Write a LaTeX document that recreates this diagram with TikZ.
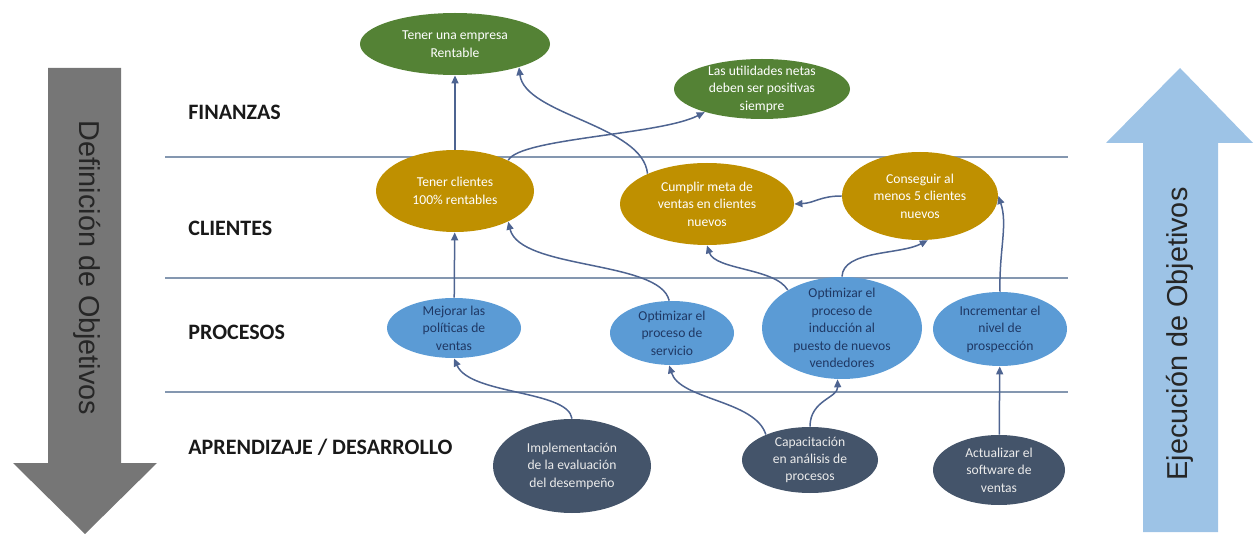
\documentclass[tikz,border=0pt]{standalone}
\usepackage{fontspec}
\setmainfont{Carlito}
\newfontfamily\arialf{Liberation Sans}
\usetikzlibrary{shapes.geometric,arrows.meta}
\definecolor{cgreen}{HTML}{548235}
\definecolor{cgold}{HTML}{BF9000}
\definecolor{cblue}{HTML}{5B9BD5}
\definecolor{cdark}{HTML}{44546A}
\definecolor{cnavy}{HTML}{1F3864}
\definecolor{cline}{HTML}{8497B0}
\definecolor{cconn}{HTML}{4E6491}
\definecolor{cgray}{HTML}{767676}
\definecolor{clight}{HTML}{9DC3E6}
\begin{document}
\begin{tikzpicture}[x=0.5pt,y=-0.5pt,
 ell/.style={ellipse, inner xsep=0pt, inner ysep=-4pt, align=center, font=\fontsize{6.8}{8.7}\selectfont},
 finnode/.style={ell, fill=cgreen, text=white},
 clinode/.style={ell, fill=cgold, text=white},
 pronode/.style={ell, fill=cblue, text=cnavy},
 aprnode/.style={ell, fill=cdark, text=white!92!black},
 conn/.style={draw=cconn, line width=0.75pt, -{Triangle[length=4pt,width=3.5pt]}},
 hline/.style={draw=cline, line width=1pt},
 lab/.style={anchor=base west, inner sep=0pt, font=\fontsize{11}{13}\selectfont\bfseries, text=black!90},
 bigtext/.style={text=black!85, font=\arialf\fontsize{14.4}{16}\selectfont}
]
\useasboundingbox (0,0) rectangle (1254,534);

% side arrows
\fill[cgray] (48,68) -- (121,68) -- (121,463) -- (157,463) -- (85,534) -- (13,463) -- (48,463) -- cycle;
\fill[clight] (1143,532) -- (1143,143) -- (1106,143) -- (1180,68) -- (1253,143) -- (1218,143) -- (1218,532) -- cycle;
\node[bigtext, rotate=-90] (deftxt) at (87,268) {Definición de Objetivos};
\node[bigtext, rotate=90] (ejetxt) at (1180,334) {Ejecución de Objetivos};

% separators
\draw[hline] (165,157) -- (1068,157);
\draw[hline] (165,278) -- (1068,278);
\draw[hline] (165,392) -- (1068,392);

% row labels
\node[lab] (lfin) at (188,120) {FINANZAS};
\node[lab] (lcli) at (188,236) {CLIENTES};
\node[lab] (lpro) at (188,340) {PROCESOS};
\node[lab] (lapr) at (188,454) {APRENDIZAJE / DESARROLLO};

% finanzas
\node[finnode, minimum width=95pt, minimum height=31pt] (g1) at (455,44) {Tener una empresa\\Rentable};
\node[finnode, minimum width=88pt, minimum height=30pt] (g2) at (762,89) {Las utilidades netas\\deben ser positivas\\siempre};
% clientes
\node[clinode, minimum width=79pt, minimum height=41pt] (gold1) at (455,191) {Tener clientes\\100\% rentables};
\node[clinode, minimum width=87pt, minimum height=41pt] (gold2) at (707,204) {Cumplir meta de\\ventas en clientes\\nuevos};
\node[clinode, minimum width=78pt, minimum height=44pt] (gold3) at (920,196) {Conseguir al\\menos 5 clientes\\nuevos};
% procesos
\node[pronode, minimum width=67pt, minimum height=30pt] (p1) at (454,328) {Mejorar las\\políticas de\\ventas};
\node[pronode, minimum width=62pt, minimum height=32pt] (p2) at (672,333) {Optimizar el\\proceso de\\servicio};
\node[pronode, minimum width=80pt, minimum height=51pt] (p3) at (842,328) {Optimizar el\\proceso de\\inducción al\\puesto de nuevos\\vendedores};
\node[pronode, minimum width=67pt, minimum height=37pt] (p4) at (1000,329) {Incrementar el\\nivel de\\prospección};
% aprendizaje
\node[aprnode, minimum width=79pt, minimum height=47pt] (d1) at (572,466) {Implementación\\de la evaluación\\del desempeño};
\node[aprnode, minimum width=68pt, minimum height=33pt] (d2) at (810,460) {Capacitación\\en análisis de\\procesos};
\node[aprnode, minimum width=66pt, minimum height=35pt] (d3) at (999,470) {Actualizar el\\software de\\ventas};

% connectors
\draw[conn] (gold1) -- (g1);
\draw[conn] (p1) -- (gold1);
\draw[conn] (d3) -- (p4);
\draw[conn] (gold1.30) .. controls (520,138) and (660,135) .. (g2.202);
\draw[conn] (gold2.153) .. controls (643,125) and (525,115) .. (g1.340);
\draw[conn] (gold3.west) .. controls (820,196) and (815,203) .. (gold2.east);
\draw[conn] (p3.145) .. controls (775,268) and (715,270) .. (gold2.south);
\draw[conn] (p3.north) .. controls (843,250) and (900,255) .. (gold3.280);
\draw[conn] (p4.north) .. controls (999,250) and (1008,225) .. (gold3.east);
\draw[conn] (p2.95) .. controls (660,260) and (520,270) .. (gold1.330);
\draw[conn] (d1.north) .. controls (568,390) and (470,395) .. (p1.south);
\draw[conn] (d2.150) .. controls (755,400) and (680,400) .. (p2.265);
\draw[conn] (d2.north) .. controls (810,400) and (838,398) .. (p3.265);
\end{tikzpicture}
\end{document}
